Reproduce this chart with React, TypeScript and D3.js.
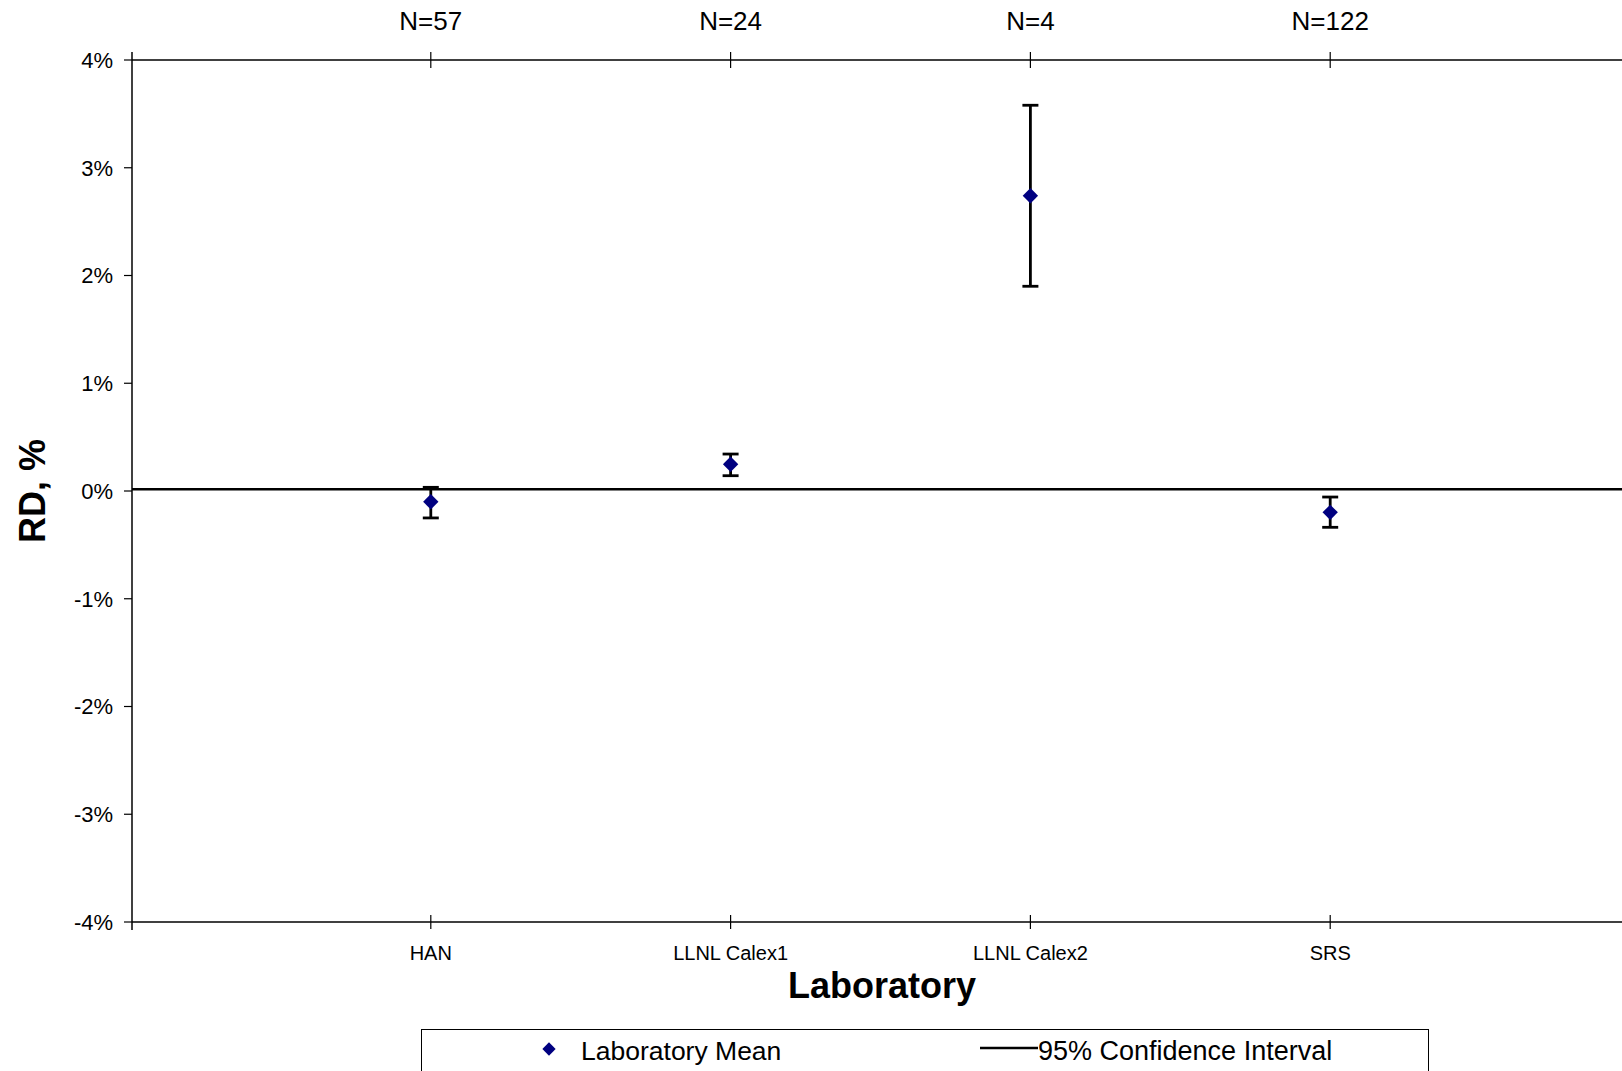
import React from "react";
import * as d3 from "d3";

const categories = ["HAN", "LLNL Calex1", "LLNL Calex2", "SRS"];
const counts = ["N=57", "N=24", "N=4", "N=122"];
const means = [-0.1, 0.248, 2.74, -0.198];
const upper = [0.034, 0.343, 3.58, -0.056];
const lower = [-0.25, 0.142, 1.9, -0.337];
const yTicks = [-4, -3, -2, -1, 0, 1, 2, 3, 4];
const referenceLine = 0.017;

const W = 1622;
const H = 1071;
const FONT = "'Liberation Sans', Arial, Helvetica, sans-serif";

export default function App() {
  const x = d3.scaleLinear().domain([0, 5]).range([131, 1630]);
  const y = d3.scaleLinear().domain([-4, 4]).range([922, 60]);
  const diamond = d3.symbol().type(d3.symbolSquare).size(118)();
  const legendDiamond = d3.symbol().type(d3.symbolSquare).size(88)();
  const capHalf = 8;
  const ax = x(0) + 1;

  return (
    <svg
      width={W}
      height={H}
      style={{ position: "absolute", left: 0, top: 0, display: "block", background: "#fff" }}
      fontFamily={FONT}
    >
      <rect x={0} y={0} width={W} height={H} fill="#fff" />
      {/* top axis */}
      <line x1={ax} x2={W} y1={y(4)} y2={y(4)} stroke="#000" strokeWidth={1.5} />
      {categories.map((c, i) => (
        <line key={"tt" + c} x1={x(i + 1)} x2={x(i + 1)} y1={y(4) - 8} y2={y(4) + 8} stroke="#000" strokeWidth={1.2} />
      ))}
      {counts.map((n, i) => (
        <text key={"n" + i} x={x(i + 1)} y={30} textAnchor="middle" fontSize={26} fill="#000">
          {n}
        </text>
      ))}
      {/* bottom axis */}
      <line x1={ax} x2={W} y1={y(-4)} y2={y(-4)} stroke="#000" strokeWidth={1.5} />
      {categories.map((c, i) => (
        <g key={"bt" + c}>
          <line x1={x(i + 1)} x2={x(i + 1)} y1={y(-4) - 7} y2={y(-4) + 7} stroke="#000" strokeWidth={1.2} />
          <text x={x(i + 1)} y={960} textAnchor="middle" fontSize={20} fill="#000">
            {c}
          </text>
        </g>
      ))}
      {/* left axis */}
      <line x1={ax} x2={ax} y1={y(4) - 8} y2={y(-4) + 8} stroke="#000" strokeWidth={1.5} />
      {yTicks.map((t) => (
        <g key={"yt" + t}>
          <line x1={ax - 8} x2={ax} y1={y(t)} y2={y(t)} stroke="#000" strokeWidth={1.2} />
          <text x={113} y={y(t)} dy="0.36em" textAnchor="end" fontSize={22} fill="#000">
            {t + "%"}
          </text>
        </g>
      ))}
      {/* reference line */}
      <line x1={ax} x2={W} y1={y(referenceLine)} y2={y(referenceLine)} stroke="#000" strokeWidth={2.5} />
      {/* error bars */}
      {categories.map((c, i) => (
        <g key={"eb" + c} stroke="#000" strokeWidth={2.8}>
          <line x1={x(i + 1)} x2={x(i + 1)} y1={y(upper[i])} y2={y(lower[i])} />
          <line x1={x(i + 1) - capHalf} x2={x(i + 1) + capHalf} y1={y(upper[i])} y2={y(upper[i])} />
          <line x1={x(i + 1) - capHalf} x2={x(i + 1) + capHalf} y1={y(lower[i])} y2={y(lower[i])} />
        </g>
      ))}
      {/* means */}
      {categories.map((c, i) => (
        <path
          key={"m" + c}
          d={diamond}
          transform={`translate(${x(i + 1)},${y(means[i])}) rotate(45)`}
          fill="#000080"
        />
      ))}
      {/* axis titles */}
      <text x={882} y={998} textAnchor="middle" fontSize={36} fontWeight="bold" fill="#000">
        Laboratory
      </text>
      <text
        transform={`translate(45,${y(0)}) rotate(-90)`}
        textAnchor="middle"
        fontSize={36}
        fontWeight="bold"
        fill="#000"
      >
        RD, %
      </text>
      {/* legend */}
      <rect x={421.5} y={1029.5} width={1007} height={80} fill="none" stroke="#000" strokeWidth={1} />
      <path d={legendDiamond} transform={`translate(549,1049) rotate(45)`} fill="#000080" />
      <text x={581} y={1060} fontSize={26.5} fill="#000">
        Laboratory Mean
      </text>
      <line x1={980} x2={1038} y1={1048} y2={1048} stroke="#000" strokeWidth={2.5} />
      <text x={1038} y={1060} fontSize={27} fill="#000">
        95% Confidence Interval
      </text>
    </svg>
  );
}
